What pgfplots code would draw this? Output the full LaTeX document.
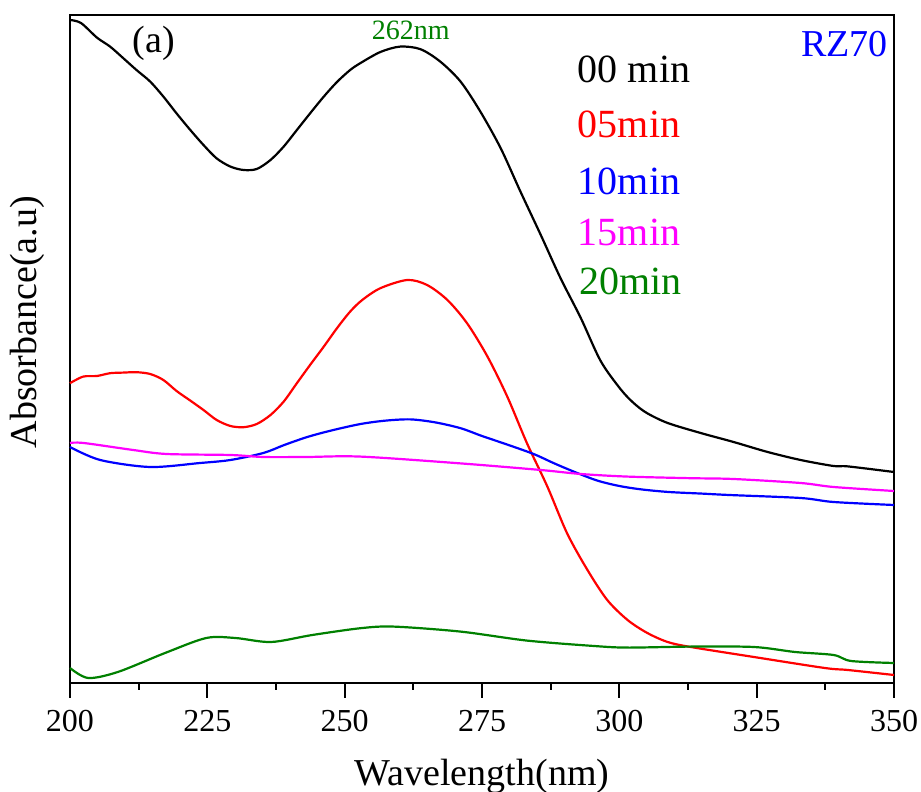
\documentclass[border=0pt]{standalone}
\usepackage{fontspec}
\setmainfont{Liberation Serif}
\usepackage{pgfplots}
\pgfplotsset{compat=1.18}
\definecolor{dgreen}{RGB}{0,128,0}
\definecolor{pmagenta}{RGB}{255,0,255}
\begin{document}
\begin{tikzpicture}
\useasboundingbox (-35pt,-54.5pt) rectangle (425.5pt,341.5pt);
\begin{axis}[
  at={(0,0)}, anchor=south west,
  scale only axis, width=412pt, height=334pt,
  xmin=200, xmax=350, ymin=0, ymax=3.34,
  xtick={200,225,...,350}, minor x tick num=1,
  ytick=\empty, xtick pos=left,
  tick align=outside,
  major tick length=7.5pt, minor tick length=3.5pt,
  axis line style={line width=1pt},
  every tick/.style={black, line width=1pt},
  /pgf/number format/assume math mode=true,
  xticklabel style={font=\fontsize{16}{19}\selectfont, anchor=base, yshift=-16.5pt},
  xlabel={Wavelength(nm)}, ylabel={Absorbance(a.u)},
  label style={font=\fontsize{19}{23}\selectfont},
  xlabel style={at={(axis description cs:0.5,-0.1527)}, anchor=base},
  ylabel style={at={(axis description cs:-0.0522,0.54)}, anchor=center},
  clip=false,
  every axis plot/.append style={line width=1.1pt, smooth},
]
% 00 min
\addplot[black] coordinates {
(200,3.315) (202.0,3.30) (204.9,3.227) (207.3,3.182) (209.7,3.124) (212.1,3.065)
(214.6,3.007) (217.0,2.932) (219.4,2.848) (221.9,2.765) (224.3,2.69) (226.7,2.623)
(229.2,2.582) (231.6,2.565) (234.0,2.57) (236.5,2.615) (238.9,2.682) (241.3,2.765)
(243.7,2.848) (246.2,2.932) (248.6,3.005) (251.0,3.065) (252.9,3.10) (256.5,3.155)
(260.1,3.182) (263.8,3.169) (267.4,3.107) (271.1,3.007) (274.7,2.857) (278.4,2.674)
(282.0,2.457) (285.7,2.24) (289.3,2.024) (293.0,1.824) (296.6,1.61) (300.2,1.47)
(302.6,1.40) (305.0,1.35) (308.8,1.30) (314.8,1.25) (320.8,1.205) (327,1.155)
(333,1.115) (339,1.085) (341.6,1.083) (350,1.055)};
% 05 min
\addplot[red] coordinates {
(200,1.499) (202.4,1.532) (204.9,1.535) (207.3,1.549) (209.7,1.552) (212.1,1.554)
(214.6,1.545) (217.0,1.515) (219.4,1.46) (221.9,1.412) (224.3,1.365) (226.7,1.315)
(229.2,1.285) (231.6,1.279) (234.0,1.295) (236.5,1.34) (238.9,1.407) (241.3,1.499)
(243.7,1.59) (246.2,1.682) (248.6,1.774) (251.0,1.857) (253.2,1.915) (256.5,1.974)
(261.4,2.015) (265.0,1.99) (268.7,1.915) (272.3,1.798) (276.0,1.632) (279.6,1.432)
(283.2,1.198) (286.9,0.982) (290.5,0.748) (294.2,0.565) (297.8,0.415) (301.5,0.315)
(305.1,0.25) (308.8,0.205) (313.0,0.18) (324.5,0.13) (337.4,0.075) (341.6,0.065)
(350,0.04)};
% 10 min
\addplot[blue] coordinates {
(200,1.18) (205.5,1.115) (214.6,1.08) (223.7,1.10) (229.2,1.115) (235.2,1.15)
(239,1.19) (243.2,1.23) (247.5,1.262) (252.9,1.295) (257.5,1.312) (262,1.318)
(266.5,1.303) (271.1,1.274) (275,1.235) (279.5,1.193) (284.4,1.145) (288,1.10)
(291.7,1.057) (296,1.012) (300,0.985) (304,0.968) (309,0.955) (315,0.947)
(320,0.94) (333,0.925) (339,0.905) (350,0.89)};
% 15 min
\addplot[pmagenta] coordinates {
(200,1.20) (202.5,1.20) (211.5,1.165) (217.6,1.145) (229.2,1.14) (235.2,1.13)
(243,1.13) (252.9,1.132) (271.1,1.098) (285.7,1.065) (293,1.045) (301.5,1.032)
(313,1.024) (320.8,1.02) (333,1.00) (339,0.98) (350,0.96)};
% 20 min
\addplot[dgreen] coordinates {
(200,0.075) (203.3,0.025) (208.7,0.055) (217.3,0.15) (224.8,0.225) (230.1,0.225)
(236.6,0.205) (244.1,0.24) (252.9,0.274) (258.9,0.282) (271.1,0.257) (283.2,0.212)
(295.4,0.185) (301.5,0.177) (313,0.182) (324.5,0.18) (332,0.155) (339,0.14)
(342.2,0.11) (350,0.10)};

\node[anchor=base west, inner sep=0, font=\fontsize{19}{23}\selectfont] at (axis cs:211.3,3.15) {(a)};
\node[anchor=base west, inner sep=0, text=dgreen, font=\fontsize{14}{17}\selectfont] at (axis cs:254.9,3.215) {262nm};
\node[anchor=base east, inner sep=0, text=blue, font=\fontsize{19}{23}\selectfont] at (axis cs:348.9,3.13) {RZ70};
\begin{scope}[every node/.style={anchor=base west, inner sep=0, font=\fontsize{20}{24}\selectfont}]
\node[text=black] at (axis cs:292.4,3.0) {00 min};
\node[text=red] at (axis cs:292.4,2.725) {05min};
\node[text=blue] at (axis cs:292.4,2.44) {10min};
\node[text=pmagenta] at (axis cs:292.4,2.185) {15min};
\node[text=dgreen] at (axis cs:292.6,1.94) {20min};
\end{scope}
\end{axis}
\end{tikzpicture}
\end{document}
